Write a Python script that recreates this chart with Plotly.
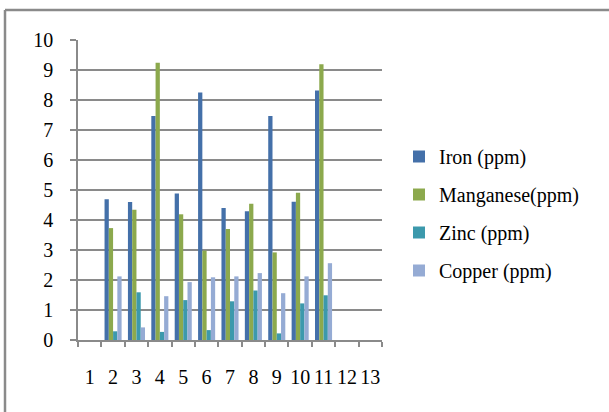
import plotly.graph_objects as go

# Sample numbers (x axis) and micronutrient concentrations (ppm)
samples = [str(i) for i in range(1, 14)]
iron = [None, 4.69, 4.60, 7.47, 4.88, 8.25, 4.40, 4.29, 7.47, 4.61, 8.32, None, None]
manganese = [None, 3.73, 4.34, 9.24, 4.19, 2.98, 3.70, 4.54, 2.92, 4.91, 9.19, None, None]
zinc = [None, 0.29, 1.59, 0.27, 1.33, 0.33, 1.29, 1.65, 0.22, 1.22, 1.49, None, None]
copper = [None, 2.12, 0.42, 1.46, 1.93, 2.09, 2.12, 2.23, 1.56, 2.12, 2.56, None, None]

series = [
    ("Iron (ppm)", iron, "#4470A9"),
    ("Manganese(ppm)", manganese, "#8CA94D"),
    ("Zinc (ppm)", zinc, "#3C99AC"),
    ("Copper (ppm)", copper, "#95ABD4"),
]

fig = go.Figure()
for name, vals, color in series:
    fig.add_trace(go.Bar(
        x=samples, y=vals, name=name, legendgroup=name,
        marker=dict(color=color, line=dict(width=0)),
    ))

GRID = "#8a8a8a"
FONT = "Liberation Serif"
FS = 20

# Plot area: x 78..382 px, y 40..340 px in a 609x412 page
L, R, T, B = 78, 227, 40, 72
W, H = 609 - L - R, 412 - T - B

def px_x(px):
    return (px - L) / W

def px_y(py):
    return (412 - B - py) / H

fig.update_layout(
    width=609, height=412,
    margin=dict(l=L, r=R, t=T, b=B),
    paper_bgcolor="white", plot_bgcolor="white",
    barmode="group", bargap=0.27, bargroupgap=0,
    font=dict(family=FONT, size=FS, color="black"),
    showlegend=True,
    legend=dict(
        x=px_x(399), y=px_y(137), xanchor="left", yanchor="top",
        font=dict(family=FONT, size=FS, color="black"),
        tracegroupgap=9, itemwidth=30, bgcolor="rgba(0,0,0,0)",
    ),
    xaxis=dict(
        type="category", showgrid=False, showline=True, linecolor=GRID, linewidth=1.5,
        ticks="outside", ticklen=5, tickcolor=GRID, tickwidth=1.5,
        tickmode="array", tickvals=samples, ticktext=samples,
        tickson="boundaries", ticklabelstandoff=18, tickangle=0,
        tickfont=dict(family=FONT, size=FS, color="black"),
    ),
    yaxis=dict(
        range=[0, 10], dtick=1, showgrid=True, gridcolor=GRID, gridwidth=1.5,
        showline=True, linecolor=GRID, linewidth=1.5,
        ticks="outside", ticklen=6, tickcolor=GRID, tickwidth=1.5,
        ticklabelstandoff=13, zeroline=False,
        tickfont=dict(family=FONT, size=FS, color="black"),
    ),
    shapes=[
        # chart-area frame (top and left edges)
        dict(type="line", xref="paper", yref="paper",
             x0=px_x(5), y0=px_y(10), x1=px_x(609), y1=px_y(10),
             line=dict(color=GRID, width=2.5)),
        dict(type="line", xref="paper", yref="paper",
             x0=px_x(5), y0=px_y(10), x1=px_x(5), y1=px_y(412),
             line=dict(color=GRID, width=2.5)),
    ],
)

fig.write_html("out.html")
